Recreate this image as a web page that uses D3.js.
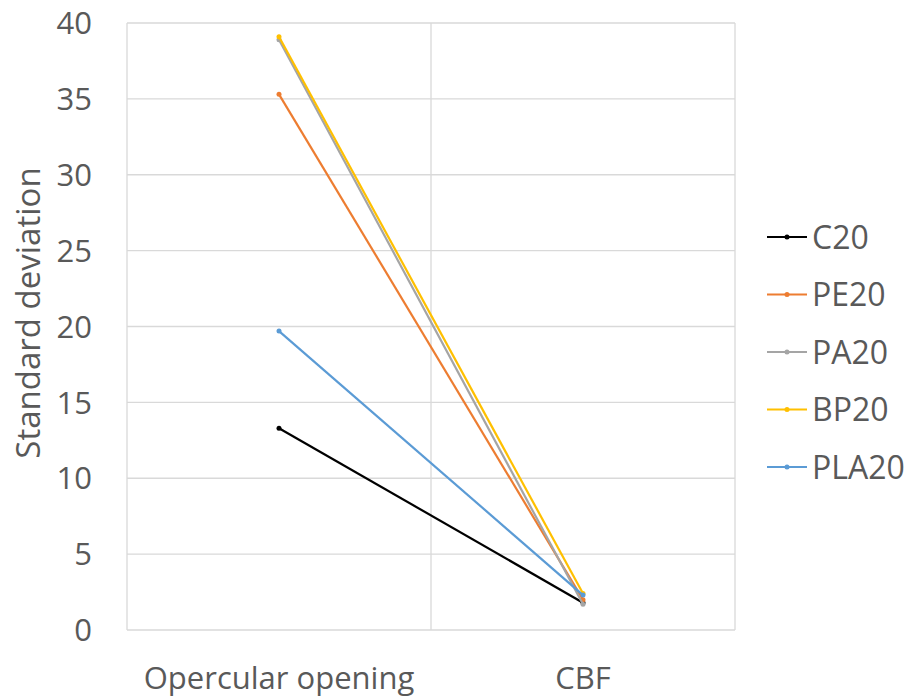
<!DOCTYPE html>
<html lang="en">
<head>
<meta charset="utf-8">
<title>Standard deviation</title>
<style>
body { margin: 0; background: #fff; }
svg text { font-family: "Open Sans", "Liberation Sans", sans-serif; fill: #595959; }
</style>
<script src="https://d3js.org/d3.v7.min.js"></script>
</head>
<body>
<svg id="chart" width="909" height="699"></svg>
<script>

var categories = ["Opercular opening", "CBF"];
var seriesNames = ["C20", "PE20", "PA20", "BP20", "PLA20"];
var seriesColors = ["#000000", "#ed7d31", "#a5a5a5", "#ffc000", "#5b9bd5"];
var C20 = [13.3, 1.8];
var PE20 = [35.3, 2.0];
var PA20 = [38.9, 1.7];
var BP20 = [39.1, 2.4];
var PLA20 = [19.7, 2.3];
var yTicks = [0, 5, 10, 15, 20, 25, 30, 35, 40];

var series = [C20, PE20, PA20, BP20, PLA20];

var svg = d3.select("#chart");
var plotLeft = 127, plotRight = 735, plotTop = 23, plotBottom = 630;

var x = d3.scaleBand().domain(categories).range([plotLeft, plotRight]);
var y = d3.scaleLinear().domain([0, 40]).range([plotBottom, plotTop]);

// horizontal gridlines
svg.selectAll(".hgrid").data(yTicks).enter().append("line")
  .attr("x1", plotLeft).attr("x2", plotRight)
  .attr("y1", function(d) { return y(d); }).attr("y2", function(d) { return y(d); })
  .attr("stroke", "#d9d9d9").attr("stroke-width", 1.3);

// vertical gridlines between categories
var vlines = [plotLeft].concat(categories.map(function(c) { return x(c) + x.bandwidth(); }));
svg.selectAll(".vgrid").data(vlines).enter().append("line")
  .attr("x1", function(d) { return d; }).attr("x2", function(d) { return d; })
  .attr("y1", plotTop).attr("y2", plotBottom)
  .attr("stroke", "#d9d9d9").attr("stroke-width", 1.3);

// y tick labels
svg.selectAll(".ytick").data(yTicks).enter().append("text")
  .attr("x", 92).attr("y", function(d) { return y(d); })
  .attr("dy", "0.36em").attr("text-anchor", "end")
  .style("font-size", "31px")
  .text(function(d) { return d; });

// category labels
svg.selectAll(".xtick").data(categories).enter().append("text")
  .attr("x", function(d) { return x(d) + x.bandwidth() / 2; }).attr("y", 678)
  .attr("dy", "0.36em").attr("text-anchor", "middle")
  .style("font-size", "31px")
  .text(function(d) { return d; });

// axis title
svg.append("text")
  .attr("transform", "translate(28,313) rotate(-90)")
  .attr("text-anchor", "middle").attr("dy", "0.36em")
  .style("font-size", "33px")
  .text("Standard deviation");

var line = d3.line()
  .x(function(d, i) { return x(categories[i]) + x.bandwidth() / 2; })
  .y(function(d) { return y(d); });

series.forEach(function(s, k) {
  svg.append("path").datum(s)
    .attr("d", line).attr("fill", "none")
    .attr("stroke", seriesColors[k]).attr("stroke-width", 2.2);
  svg.selectAll(".pt" + k).data(s).enter().append("circle")
    .attr("cx", function(d, i) { return x(categories[i]) + x.bandwidth() / 2; })
    .attr("cy", function(d) { return y(d); })
    .attr("r", 2.5).attr("fill", seriesColors[k]);
});

// legend
var legend = svg.selectAll(".legend").data(seriesNames).enter().append("g")
  .attr("transform", function(d, i) { return "translate(767," + (237 + i * 57.5) + ")"; });
legend.append("line").attr("x1", 0).attr("x2", 40)
  .attr("stroke", function(d, i) { return seriesColors[i]; }).attr("stroke-width", 2.2);
legend.append("circle").attr("cx", 20).attr("r", 2.5)
  .attr("fill", function(d, i) { return seriesColors[i]; });
legend.append("text").attr("x", 45).attr("dy", "0.36em")
  .style("font-size", "32px")
  .text(function(d) { return d; });

</script>
</body>
</html>
